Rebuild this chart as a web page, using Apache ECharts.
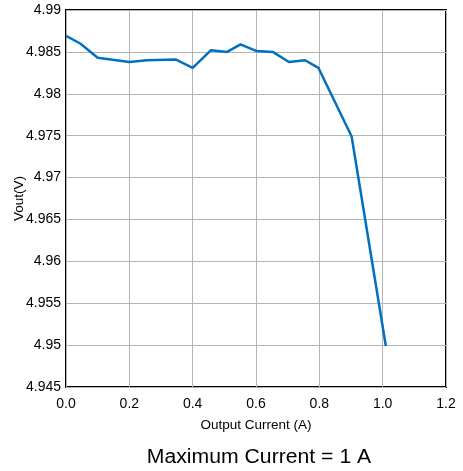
<!DOCTYPE html>
<html>
<head>
<meta charset="utf-8">
<script src="https://cdn.jsdelivr.net/npm/echarts@6/dist/echarts.min.js"></script>
<style>
  html, body { margin: 0; padding: 0; background: #fff; }
  #chart { width: 463px; height: 471px; }
</style>
</head>
<body>
<div id="chart"></div>
<script>
// output current (A) and measured Vout (V)
const currentA = [0, 0.045, 0.1, 0.2, 0.255, 0.346, 0.4, 0.458, 0.509, 0.551, 0.602, 0.653, 0.704, 0.755, 0.797, 0.902, 1.01];
const voutV = [4.9869, 4.986, 4.9843, 4.9838, 4.9840, 4.9841, 4.9831, 4.9852, 4.9850, 4.9859, 4.9851, 4.9850, 4.9838, 4.9840, 4.9831, 4.9749, 4.9499];
const caption = "Maximum Current = 1 A";

const mychart = echarts.init(document.getElementById("chart"));
const font = "Liberation Sans, Arial, sans-serif";

const option = {
  animation: false,
  grid: {
    left: 66,
    top: 10,
    width: 380,
    height: 377,
    containLabel: false,
    outerBoundsMode: "none",
    show: true,
    borderColor: "#000",
    borderWidth: 2
  },
  xAxis: {
    type: "value",
    min: 0,
    max: 1.2,
    interval: 0.2,
    name: "Output Current (A)",
    nameLocation: "middle",
    nameGap: 31,
    nameMoveOverlap: false,
    nameTextStyle: { color: "#000", fontSize: 13.5, fontFamily: font },
    axisLine: { show: false },
    axisTick: { show: false },
    axisLabel: {
      color: "#000",
      fontSize: 14,
      fontFamily: font,
      margin: 10,
      formatter: v => v.toFixed(1)
    },
    splitLine: { lineStyle: { color: "#b4b4b4", width: 1 } }
  },
  yAxis: {
    type: "value",
    min: 4.945,
    max: 4.99,
    interval: 0.005,
    name: "Vout(V)",
    nameLocation: "middle",
    nameGap: 40,
    nameRotate: 90,
    nameMoveOverlap: false,
    nameTextStyle: { color: "#000", fontSize: 13.5, fontFamily: font },
    axisLine: { show: false },
    axisTick: { show: false },
    axisLabel: {
      color: "#000",
      fontSize: 14,
      fontFamily: font,
      margin: 5,
      formatter: v => String(parseFloat(v.toFixed(3)))
    },
    splitLine: { lineStyle: { color: "#b4b4b4", width: 1 } }
  },
  graphic: [
    {
      type: "text",
      x: 259,
      y: 457,
      scaleX: 1.06,
      style: {
        text: caption,
        fill: "#000",
        fontSize: 20,
        fontFamily: font,
        align: "center",
        verticalAlign: "middle"
      }
    }
  ],
  series: [
    {
      type: "line",
      data: currentA.map((x, i) => [x, voutV[i]]),
      showSymbol: false,
      lineStyle: { color: "#0070c0", width: 2.5 },
      z: 5
    }
  ]
};
mychart.setOption(option, true);
</script>
</body>
</html>
